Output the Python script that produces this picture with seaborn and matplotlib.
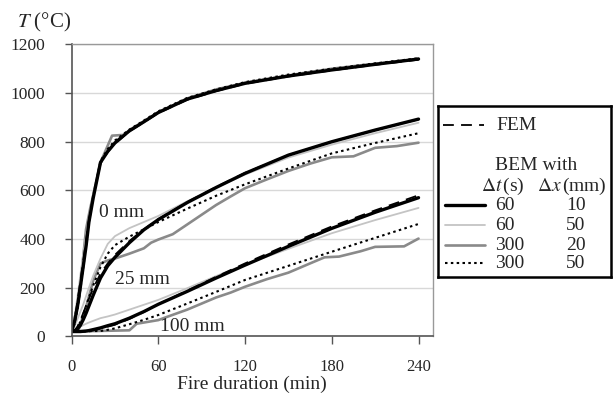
import numpy as np
import pandas as pd
import matplotlib
matplotlib.use("Agg")
import matplotlib.pyplot as plt
import seaborn as sns

# ----------------------------------------------------------
# DATA
# ----------------------------------------------------------

minutes = [0, 2, 4, 6, 8, 10, 12, 15, 20, 25, 30, 40, 50, 60, 80, 100, 120, 150, 180, 210, 240]

# 0 mm (surface)
fem_0 = [20, 70, 140, 225, 310, 395, 480, 580, 710, 758, 792, 843, 880, 918, 972, 1008, 1038, 1068, 1093, 1116, 1137]
bem_60_10_0 = [20, 60, 120, 200, 285, 370, 470, 570, 715, 760, 795, 845, 882, 920, 975, 1010, 1040, 1070, 1095, 1118, 1140]
bem_60_50_0 = [20, 80, 160, 250, 330, 410, 490, 590, 715, 765, 800, 850, 885, 922, 976, 1012, 1042, 1072, 1098, 1120, 1142]
bem_300_50_0 = [20, 50, 110, 190, 280, 370, 470, 575, 720, 770, 805, 850, 887, 925, 980, 1015, 1045, 1076, 1100, 1122, 1143]
t_300_20_0 = [0, 5, 10, 13, 15, 20, 24, 28, 36, 45, 60, 80, 100, 120, 140, 160, 180, 200, 210, 220, 240]
bem_300_20_0 = [20, 150, 440, 530, 580, 715, 770, 825, 828, 862, 920, 978, 1015, 1042, 1062, 1082, 1100, 1114, 1120, 1126, 1140]

# 25 mm
fem_25 = [20, 24, 40, 65, 95, 125, 155, 198, 258, 300, 335, 392, 440, 482, 552, 614, 672, 745, 800, 848, 892]
bem_60_10_25 = [20, 22, 30, 45, 68, 95, 125, 170, 240, 290, 325, 385, 438, 480, 550, 612, 670, 745, 800, 848, 893]
bem_60_50_25 = [20, 40, 70, 100, 130, 165, 200, 250, 320, 380, 412, 445, 470, 495, 555, 612, 665, 735, 788, 835, 878]
bem_300_50_25 = [20, 22, 35, 60, 90, 125, 160, 210, 285, 340, 375, 410, 440, 470, 525, 578, 625, 690, 752, 795, 835]
t_300_20_25 = [0, 5, 10, 15, 20, 25, 30, 40, 50, 55, 60, 70, 80, 90, 100, 110, 120, 135, 150, 165, 180, 195, 210, 225, 240]
bem_300_20_25 = [20, 30, 120, 230, 300, 312, 320, 340, 362, 385, 398, 420, 460, 500, 540, 575, 609, 645, 680, 710, 736, 740, 775, 782, 796]

# 100 mm
fem_100 = [20, 20, 20, 20, 20, 21, 22, 25, 32, 40, 48, 72, 100, 132, 188, 245, 300, 378, 452, 518, 580]
bem_60_10_100 = [20, 20, 20, 20, 21, 22, 24, 28, 35, 44, 52, 75, 102, 132, 185, 240, 293, 370, 444, 510, 570]
bem_60_50_100 = [20, 26, 33, 40, 46, 52, 57, 64, 75, 82, 90, 110, 130, 150, 198, 248, 295, 360, 424, 478, 528]
bem_300_50_100 = [20, 20, 20, 20, 20, 20, 21, 22, 22, 27, 33, 50, 68, 88, 135, 183, 232, 290, 348, 405, 462]
t_300_20_100 = [0, 10, 15, 40, 45, 60, 65, 80, 90, 100, 110, 120, 135, 150, 165, 175, 185, 200, 210, 230, 240]
bem_300_20_100 = [20, 22, 22, 25, 52, 67, 78, 110, 135, 160, 180, 204, 235, 262, 300, 325, 328, 350, 368, 370, 402]

depth_labels = ["0 mm", "25 mm", "100 mm"]
depth_label_pos = [(19, 511), (30, 235), (61, 40)]

legend_dt = ["60", "60", "300", "300"]
legend_dx = ["10", "50", "20", "50"]

# ----------------------------------------------------------
# STYLE
# ----------------------------------------------------------

sns.set_style("white")
plt.rcParams['font.family'] = ['Liberation Serif', 'DejaVu Serif']
plt.rcParams['mathtext.fontset'] = 'stix'

styles = {
    "300/20": dict(color="#8a8a8a", lw=1.9, ls="-"),
    "60/50": dict(color="#c4c4c4", lw=1.3, ls="-"),
    "300/50": dict(color="black", lw=1.5, ls=(0, (1.2, 1.6))),
    "60/10": dict(color="black", lw=2.4, ls="-"),
    "FEM": dict(color="black", lw=1.3, ls=(0, (6, 4))),
}

series = [
    ("300/20", t_300_20_0, bem_300_20_0),
    ("300/20", t_300_20_25, bem_300_20_25),
    ("300/20", t_300_20_100, bem_300_20_100),
    ("60/50", minutes, bem_60_50_0),
    ("60/50", minutes, bem_60_50_25),
    ("60/50", minutes, bem_60_50_100),
    ("300/50", minutes, bem_300_50_0),
    ("300/50", minutes, bem_300_50_25),
    ("300/50", minutes, bem_300_50_100),
    ("60/10", minutes, bem_60_10_0),
    ("60/10", minutes, bem_60_10_25),
    ("60/10", minutes, bem_60_10_100),
    ("FEM", minutes, fem_0),
    ("FEM", minutes, fem_25),
    ("FEM", minutes, fem_100),
]

# ----------------------------------------------------------
# PLOT
# ----------------------------------------------------------

fig = plt.figure(figsize=(6.16, 3.96), dpi=100)
ax = fig.add_axes([0.1162, 0.1505, 0.5867, 0.7374])

for key, t, temp in series:
    df = pd.DataFrame({"t": t, "T": temp})
    sns.lineplot(data=df, x="t", y="T", ax=ax, estimator=None, sort=False,
                 **styles[key])

ax.set_xlim(0, 250)
ax.set_ylim(0, 1200)
ax.set_xticks([0, 60, 120, 180, 240])
ax.set_yticks(np.arange(0, 1201, 200))
ax.yaxis.grid(True, color="#d8d8d8", lw=1)
ax.xaxis.grid(False)
ax.set_axisbelow(True)

for side in ["left", "bottom"]:
    ax.spines[side].set_color("#555555")
    ax.spines[side].set_linewidth(1.2)
for side in ["top", "right"]:
    ax.spines[side].set_color("#999999")
    ax.spines[side].set_linewidth(1.0)

ax.tick_params(axis="x", direction="out", length=6, width=1, color="#555555",
               labelsize=12, pad=10, bottom=True)
ax.tick_params(axis="y", direction="out", length=5, width=1, color="#555555",
               labelsize=12.5, pad=14, left=True)
ax.set_xlabel("Fire duration (min)", fontsize=14, labelpad=1)
ax.set_ylabel("")

fig.text(0.027, 0.944, r"$T$ (°C)", fontsize=15, va="center", ha="left")

for lab, (x, y) in zip(depth_labels, depth_label_pos):
    ax.text(x, y, lab, fontsize=14, va="center", ha="left")

# ----------------------------------------------------------
# LEGEND BOX
# ----------------------------------------------------------

lg = fig.add_axes([438 / 616, (396 - 277) / 396, 173 / 616, 171 / 396])
lg.set_xlim(438, 611)
lg.set_ylim(277, 106)
lg.set_xticks([])
lg.set_yticks([])
for side in lg.spines.values():
    side.set_color("black")
    side.set_linewidth(1.8)

lg.plot([443, 484], [125, 125], **styles["FEM"])
lg.text(496, 125, "FEM", fontsize=14, va="center")
lg.text(495, 165, "BEM with", fontsize=14, va="center")
lg.text(481, 186, r"$\Delta t\,$(s)", fontsize=14, va="center")
lg.text(537, 186, r"$\Delta x\,$(mm)", fontsize=14, va="center")

row_y = [205, 225, 245, 263]
row_keys = ["60/10", "60/50", "300/20", "300/50"]
for y, key, dt, dx in zip(row_y, row_keys, legend_dt, legend_dx):
    lg.plot([445, 485], [y, y], **styles[key])
    lg.text(495, y, dt, fontsize=14, va="center")
    lg.text(576, y, dx, fontsize=14, va="center", ha="center")

fig.savefig("out.png", dpi=100)
